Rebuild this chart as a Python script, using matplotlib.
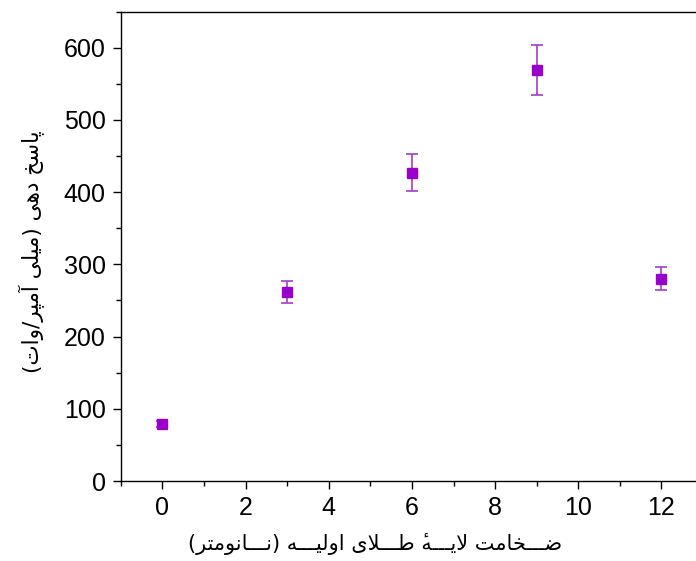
import matplotlib
matplotlib.use("Agg")
import matplotlib.pyplot as plt
from matplotlib.ticker import MultipleLocator

# ── data ──────────────────────────────────────────────────────
thickness = [0, 3, 6, 9, 12]               # nm
response  = [79, 262, 427, 569, 280]       # mA/W
err       = [4, 15, 26, 35, 16]

xlabel_fa = "ضـــخامت لایـــهٔ طـــلای اولیـــه (نـــانومتر)"
ylabel_fa = "پاسخ دهی (میلی آمپر/وات)"

# ── tiny Persian shaper (matplotlib does no shaping / bidi) ───
FORMS = {
    'ا': (0xFE8D, 0xFE8E), 'آ': (0xFE81, 0xFE82), 'د': (0xFEA9, 0xFEAA),
    'ر': (0xFEAD, 0xFEAE), 'و': (0xFEED, 0xFEEE),
    'LAا': (0xFEFB, 0xFEFC), 'LAآ': (0xFEF5, 0xFEF6),
    'پ': (0xFB56, 0xFB57, 0xFB58, 0xFB59), 'ت': (0xFE95, 0xFE96, 0xFE97, 0xFE98),
    'خ': (0xFEA5, 0xFEA6, 0xFEA7, 0xFEA8), 'س': (0xFEB1, 0xFEB2, 0xFEB3, 0xFEB4),
    'ض': (0xFEBD, 0xFEBE, 0xFEBF, 0xFEC0), 'ط': (0xFEC1, 0xFEC2, 0xFEC3, 0xFEC4),
    'ل': (0xFEDD, 0xFEDE, 0xFEDF, 0xFEE0), 'م': (0xFEE1, 0xFEE2, 0xFEE3, 0xFEE4),
    'ن': (0xFEE5, 0xFEE6, 0xFEE7, 0xFEE8), 'ه': (0xFEE9, 0xFEEA, 0xFEEB, 0xFEEC),
    'ی': (0xFBFC, 0xFBFD, 0xFBFE, 0xFBFF),
}
MIRROR = {'(': ')', ')': '('}


def jtype(t):
    if t == 'ـ' or (t in FORMS and len(FORMS[t]) == 4):
        return 'D'
    if t in FORMS:
        return 'R'
    return 'U'


def fa(text):
    toks, i = [], 0
    while i < len(text):
        if text[i] == 'ل' and i + 1 < len(text) and text[i + 1] in 'اآ':
            toks.append('LA' + text[i + 1])
            i += 2
        else:
            toks.append(text[i])
            i += 1

    out = []
    for k, t in enumerate(toks):
        jt = jtype(t)
        if jt == 'U' or t == 'ـ':
            out.append(t)
            continue
        jp = k > 0 and jtype(toks[k - 1]) == 'D'
        jn = jt == 'D' and k + 1 < len(toks) and jtype(toks[k + 1]) in ('D', 'R')
        f = FORMS[t]
        if jp and jn:
            code = f[3]
        elif jp:
            code = f[1]
        elif jn:
            code = f[2]
        else:
            code = f[0]
        out.append(chr(code))

    # reverse for right-to-left display (the hamza mark lands before its heh,
    # so it is drawn over it)
    return ''.join(MIRROR.get(c, c) for c in reversed(out))


# ── figure ────────────────────────────────────────────────────
plt.rcParams['font.family'] = ['Liberation Sans', 'DejaVu Sans']

fig = plt.figure(figsize=(6.96, 5.61), dpi=100)
ax = fig.add_axes([0.1737, 0.1426, 0.8364, 0.8366])

ax.errorbar(thickness, response, yerr=err, fmt='none',
            ecolor='#A33DC8', elinewidth=1.2, capsize=4, capthick=1.2,
            zorder=2)
ax.plot(thickness, response, 's', color='#9900CC', markersize=7, zorder=3)

ax.set_xlim(-1, 13)
ax.set_ylim(0, 650)
ax.xaxis.set_major_locator(MultipleLocator(2))
ax.xaxis.set_minor_locator(MultipleLocator(1))
ax.yaxis.set_major_locator(MultipleLocator(100))
ax.yaxis.set_minor_locator(MultipleLocator(50))

ax.spines['right'].set_visible(False)
for s in ax.spines.values():
    s.set_linewidth(1.0)
ax.tick_params(which='major', direction='out', length=6, width=1.0,
               labelsize=18, pad=5, top=False, right=False)
ax.tick_params(which='minor', direction='out', length=3.5, width=1.0,
               top=False, right=False)

ax.set_xlabel(fa(xlabel_fa), fontsize=15, family=['DejaVu Sans'])
ax.set_ylabel(fa(ylabel_fa), fontsize=15.5, family=['DejaVu Sans'])
ax.xaxis.set_label_coords(0.4365, -0.111)
ax.yaxis.set_label_coords(-0.130, 0.488)

fig.savefig("out.png", dpi=100)
